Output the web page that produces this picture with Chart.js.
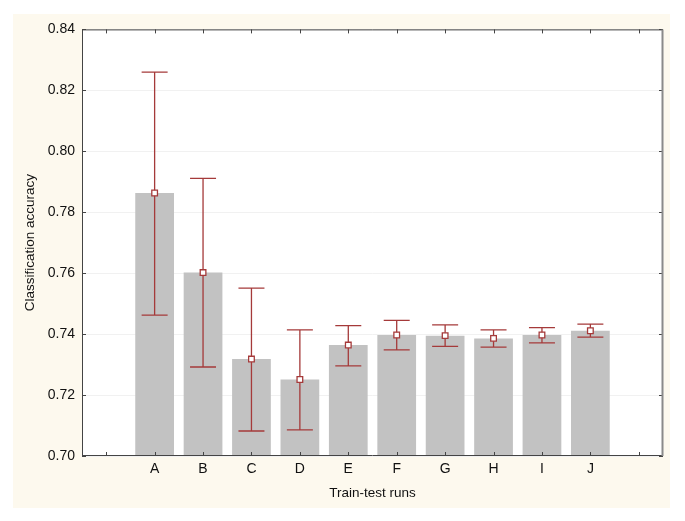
<!DOCTYPE html>
<html>
<head>
<meta charset="utf-8">
<script src="https://cdn.jsdelivr.net/npm/chart.js@4.4.1/dist/chart.umd.min.js"></script>
<style>
    html, body { margin: 0; padding: 0; background: #ffffff; }
    #panel {
        position: absolute;
        left: 13px; top: 14px;
        width: 657px; height: 494px;
        background: #fdf9ee;
    }
    #chart { display: block; }
</style>
</head>
<body>
<div id="panel"><canvas id="chart" width="657" height="494"></canvas></div>
<script>
// categories (blank slots at both ends like the original)
const runs = ['', 'A', 'B', 'C', 'D', 'E', 'F', 'G', 'H', 'I', 'J', ''];
// mean classification accuracy
const meanAcc = [null, 0.7863, 0.7602, 0.7318, 0.7251, 0.7364, 0.7397, 0.7395, 0.7386, 0.7397, 0.7411, null];
// error bar limits
const lowerAcc = [null, 0.7462, 0.7292, 0.7082, 0.7086, 0.7296, 0.7348, 0.7360, 0.7357, 0.7371, 0.7390, null];
const upperAcc = [null, 0.8260, 0.7911, 0.7551, 0.7414, 0.7428, 0.7445, 0.7430, 0.7414, 0.7421, 0.7433, null];
// y axis ticks
const yTicks = [0.70, 0.72, 0.74, 0.76, 0.78, 0.80, 0.82, 0.84];

const errColor = '#a53a3a';
const fontFamily = '"Liberation Sans", Arial, sans-serif';

// error bars are drawn just before the markers, so squares stay on top
const errorBars = {
    id: 'errorBars',
    beforeDatasetDraw(chart, args) {
        if (args.index !== 1) return;
        const ctx = chart.ctx;
        const x = chart.scales.x, y = chart.scales.y;
        ctx.save();
        ctx.strokeStyle = errColor;
        ctx.lineWidth = 1.3;
        runs.forEach((r, i) => {
            if (upperAcc[i] == null) return;
            const px = x.getPixelForValue(i);
            const top = y.getPixelForValue(upperAcc[i]);
            const bot = y.getPixelForValue(lowerAcc[i]);
            const cap = 13;
            ctx.beginPath();
            ctx.moveTo(px, top); ctx.lineTo(px, bot);
            ctx.moveTo(px - cap, top); ctx.lineTo(px + cap, top);
            ctx.moveTo(px - cap, bot); ctx.lineTo(px + cap, bot);
            ctx.stroke();
        });
        ctx.restore();
    }
};

// box around plot with inward tick marks
const frame = {
    id: 'frame',
    afterDraw(chart) {
        const ctx = chart.ctx;
        const a = chart.chartArea;
        const x = chart.scales.x, y = chart.scales.y;
        const t = 4;
        ctx.save();
        ctx.strokeStyle = '#444';
        ctx.lineWidth = 1;
        ctx.beginPath();
        ctx.moveTo(a.left + 0.5, a.top + 0.5);
        ctx.lineTo(a.right, a.top + 0.5);
        ctx.moveTo(a.left + 0.5, a.top);
        ctx.lineTo(a.left + 0.5, a.bottom);
        ctx.moveTo(a.left, a.bottom - 0.5);
        ctx.lineTo(a.right, a.bottom - 0.5);
        runs.forEach((r, i) => {
            const px = Math.round(x.getPixelForValue(i)) + 0.5;
            ctx.moveTo(px, a.bottom); ctx.lineTo(px, a.bottom - t);
            ctx.moveTo(px, a.top); ctx.lineTo(px, a.top + t);
        });
        yTicks.forEach(v => {
            const py = Math.round(y.getPixelForValue(v)) + 0.5;
            ctx.moveTo(a.left, py); ctx.lineTo(a.left + t, py);
            ctx.moveTo(a.right, py); ctx.lineTo(a.right - t, py);
        });
        ctx.stroke();
        ctx.strokeStyle = '#8a8a8a';
        ctx.lineWidth = 2;
        ctx.beginPath();
        ctx.moveTo(a.right - 0.5, a.top);
        ctx.lineTo(a.right - 0.5, a.bottom);
        ctx.stroke();
        ctx.restore();
    }
};

const plotBg = {
    id: 'plotBg',
    beforeDraw(chart) {
        const a = chart.chartArea;
        chart.ctx.save();
        chart.ctx.fillStyle = '#ffffff';
        chart.ctx.fillRect(a.left, a.top, a.right - a.left, a.bottom - a.top);
        chart.ctx.restore();
    }
};

new Chart(document.getElementById('chart'), {
    data: {
        labels: runs,
        datasets: [{
            type: 'bar',
            data: meanAcc,
            backgroundColor: '#c2c2c2',
            categoryPercentage: 1,
            barPercentage: 0.8,
            order: 2
        }, {
            type: 'line',
            data: meanAcc,
            showLine: false,
            pointStyle: 'rect',
            pointRadius: 4,
            pointBackgroundColor: '#ffffff',
            pointBorderColor: errColor,
            pointBorderWidth: 1.3,
            order: 1
        }]
    },
    options: {
        responsive: false,
        animation: false,
        layout: { padding: { top: 12, right: 7, left: 0, bottom: 0 } },
        plugins: { legend: { display: false }, tooltip: { enabled: false } },
        scales: {
            x: {
                offset: true,
                grid: { display: false, drawTicks: false },
                border: { display: false },
                ticks: { color: '#111', font: { family: fontFamily, size: 14 }, padding: 5, autoSkip: false, maxRotation: 0 },
                title: { display: true, text: 'Train-test runs', color: '#111', font: { family: fontFamily, size: 13.5 }, padding: { top: 6, bottom: 7 } },
                afterFit(scale) { scale.height = 52; }
            },
            y: {
                min: 0.70,
                max: 0.84,
                grid: { color: '#f1f1f1', drawTicks: false },
                border: { display: false },
                ticks: {
                    stepSize: 0.02,
                    color: '#111',
                    padding: 7,
                    font: { family: fontFamily, size: 14 },
                    callback: v => v.toFixed(2)
                },
                title: { display: true, text: 'Classification accuracy', color: '#111', font: { family: fontFamily, size: 13.5 }, padding: { top: 9, bottom: 0 } },
                afterFit(scale) { scale.width = 69; }
            }
        }
    },
    plugins: [plotBg, errorBars, frame]
});
</script>
</body>
</html>
